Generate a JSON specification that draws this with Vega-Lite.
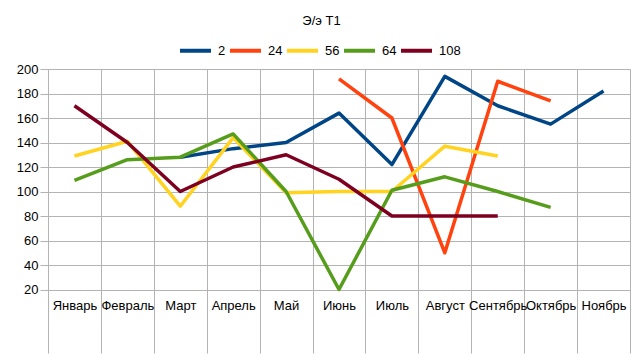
{
  "$schema": "https://vega.github.io/schema/vega-lite/v6.json",
  "autosize": "none",
  "padding": {"left": 48, "top": 69, "right": 13, "bottom": 8},
  "width": 582,
  "height": 284,
  "background": "white",
  "title": {"text": "Э/э Т1", "font": "Liberation Sans", "fontSize": 13, "fontWeight": "normal", "color": "#000000", "anchor": "middle", "frame": "group", "dx": -17.5, "offset": 5},
  "config": {
    "view": {"stroke": null},
    "font": "Liberation Sans"
  },
  "data": {
    "values": [
      {"m": "Март", "s": "2", "v": 128},
      {"m": "Апрель", "s": "2", "v": 135},
      {"m": "Май", "s": "2", "v": 140},
      {"m": "Июнь", "s": "2", "v": 164},
      {"m": "Июль", "s": "2", "v": 122},
      {"m": "Август", "s": "2", "v": 194},
      {"m": "Сентябрь", "s": "2", "v": 170},
      {"m": "Октябрь", "s": "2", "v": 155},
      {"m": "Ноябрь", "s": "2", "v": 182},
      {"m": "Июнь", "s": "24", "v": 192},
      {"m": "Июль", "s": "24", "v": 160},
      {"m": "Август", "s": "24", "v": 50},
      {"m": "Сентябрь", "s": "24", "v": 190},
      {"m": "Октябрь", "s": "24", "v": 174},
      {"m": "Январь", "s": "56", "v": 129},
      {"m": "Февраль", "s": "56", "v": 141},
      {"m": "Март", "s": "56", "v": 88},
      {"m": "Апрель", "s": "56", "v": 144},
      {"m": "Май", "s": "56", "v": 99},
      {"m": "Июнь", "s": "56", "v": 100},
      {"m": "Июль", "s": "56", "v": 100},
      {"m": "Август", "s": "56", "v": 137},
      {"m": "Сентябрь", "s": "56", "v": 129},
      {"m": "Январь", "s": "64", "v": 109},
      {"m": "Февраль", "s": "64", "v": 126},
      {"m": "Март", "s": "64", "v": 128},
      {"m": "Апрель", "s": "64", "v": 147},
      {"m": "Май", "s": "64", "v": 100},
      {"m": "Июнь", "s": "64", "v": 20},
      {"m": "Июль", "s": "64", "v": 101},
      {"m": "Август", "s": "64", "v": 112},
      {"m": "Сентябрь", "s": "64", "v": 100},
      {"m": "Октябрь", "s": "64", "v": 87},
      {"m": "Январь", "s": "108", "v": 170},
      {"m": "Февраль", "s": "108", "v": 140},
      {"m": "Март", "s": "108", "v": 100},
      {"m": "Апрель", "s": "108", "v": 120},
      {"m": "Май", "s": "108", "v": 130},
      {"m": "Июнь", "s": "108", "v": 110},
      {"m": "Июль", "s": "108", "v": 80},
      {"m": "Август", "s": "108", "v": 80},
      {"m": "Сентябрь", "s": "108", "v": 80}
    ]
  },
  "mark": {"type": "line", "strokeWidth": 3.5, "strokeJoin": "round"},
  "encoding": {
    "x": {
      "field": "m",
      "type": "nominal",
      "sort": ["Январь", "Февраль", "Март", "Апрель", "Май", "Июнь", "Июль", "Август", "Сентябрь", "Октябрь", "Ноябрь"],
      "scale": {"domain": ["Январь", "Февраль", "Март", "Апрель", "Май", "Июнь", "Июль", "Август", "Сентябрь", "Октябрь", "Ноябрь"], "paddingInner": 0, "paddingOuter": 0},
      "axis": {
        "title": null,
        "grid": true,
        "gridColor": "#b3b3b3",
        "gridWidth": 1,
        "tickBand": "extent",
        "ticks": false,
        "domain": false,
        "labelAngle": 0,
        "labelOverlap": false,
        "labelBaseline": "middle",
        "labelPadding": -48,
        "labelFontSize": 13,
        "labelColor": "#000000",
        "labelFont": "Liberation Sans"
      }
    },
    "y": {
      "field": "v",
      "type": "quantitative",
      "scale": {"domain": [-31.8, 200], "nice": false, "zero": false},
      "axis": {
        "title": null,
        "values": [20, 40, 60, 80, 100, 120, 140, 160, 180, 200],
        "grid": true,
        "gridColor": "#b3b3b3",
        "gridWidth": 1,
        "domain": false,
        "tickColor": "#b3b3b3",
        "tickSize": 8,
        "labelPadding": 2,
        "labelFontSize": 13,
        "labelColor": "#000000",
        "labelFont": "Liberation Sans"
      }
    },
    "color": {
      "field": "s",
      "type": "nominal",
      "scale": {"domain": ["2", "24", "56", "64", "108"], "range": ["#004586", "#ff420e", "#ffd320", "#579d1c", "#7e0021"]},
      "legend": {
        "title": null,
        "orient": "none",
        "direction": "horizontal",
        "legendX": 130,
        "legendY": -36,
        "padding": 0,
        "symbolType": "stroke",
        "symbolSize": 961,
        "symbolStrokeWidth": 4,
        "labelFontSize": 13,
        "labelFont": "Liberation Sans",
        "labelColor": "#000000",
        "labelOffset": 5,
        "columnPadding": -4
      }
    }
  }
}
